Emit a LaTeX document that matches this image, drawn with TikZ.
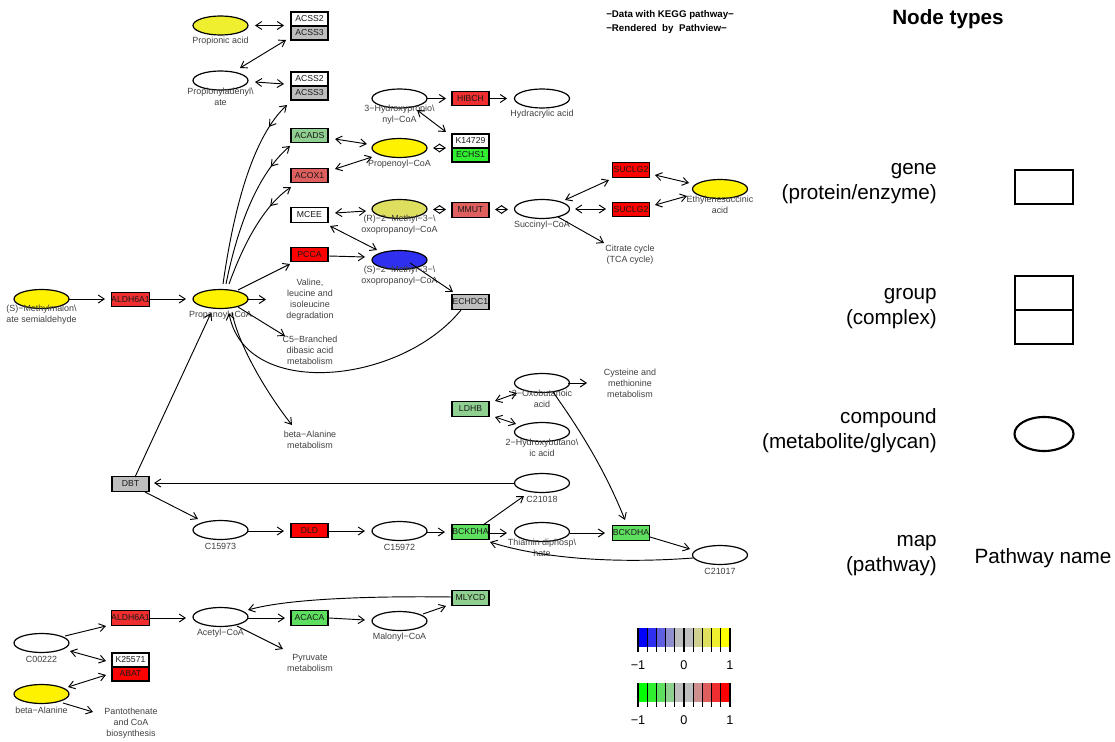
\documentclass[tikz,border=0pt]{standalone}
\usepackage{fontspec}
\setmainfont{Liberation Sans}
\usetikzlibrary{arrows.meta,calc,decorations.markings,shapes.geometric}
\definecolor{cy1}{HTML}{EFEF2F}
\definecolor{colive}{HTML}{DFDF5F}
\definecolor{cblue}{HTML}{2F2FEF}
\definecolor{cgrey}{HTML}{BEBEBE}
\definecolor{gA}{HTML}{8FCF8F}
\definecolor{gB}{HTML}{5FDF5F}
\definecolor{gC}{HTML}{2FEF2F}
\definecolor{rA}{HTML}{DF5F5F}
\definecolor{rB}{HTML}{EF2F2F}
\definecolor{rC}{HTML}{FF0000}
\definecolor{bA0}{HTML}{0000FF}\definecolor{bA1}{HTML}{2F2FEF}\definecolor{bA2}{HTML}{5F5FDF}
\definecolor{bA3}{HTML}{8F8FCF}\definecolor{bA4}{HTML}{BEBEBE}\definecolor{bA5}{HTML}{BEBEBE}
\definecolor{bA6}{HTML}{CFCF8F}\definecolor{bA7}{HTML}{DFDF5F}\definecolor{bA8}{HTML}{EFEF2F}
\definecolor{bA9}{HTML}{FFFF00}
\definecolor{bB0}{HTML}{00FF00}\definecolor{bB1}{HTML}{2FEF2F}\definecolor{bB2}{HTML}{5FDF5F}
\definecolor{bB3}{HTML}{8FCF8F}\definecolor{bB4}{HTML}{BEBEBE}\definecolor{bB5}{HTML}{BEBEBE}
\definecolor{bB6}{HTML}{CF8F8F}\definecolor{bB7}{HTML}{DF5F5F}\definecolor{bB8}{HTML}{EF2F2F}
\definecolor{bB9}{HTML}{FF0000}
\tikzset{
 >={Straight Barb[length=4.5pt,width=6pt]},
 cpd/.style={ellipse,draw=black,line width=0.9pt,minimum width=41.25pt,minimum height=14.25pt,inner sep=0pt},
 gene/.style={rectangle,draw=black,line width=0.9pt,minimum width=27.75pt,minimum height=10.9pt,inner sep=0pt,font=\fontsize{6.5}{7}\selectfont,text=black!90},
 half/.style={gene,minimum height=10.5pt},
 lbl/.style={font=\fontsize{6.7}{8.25}\selectfont,align=center,inner sep=0pt,text=black!75},
 con/.style={line width=0.7pt},
 midback/.style={postaction={decorate,decoration={markings,mark=at position -15.75pt with {\arrow{<}}}}},
 leg/.style={font=\fontsize{15.5}{18.75}\selectfont,align=right,inner sep=0pt},
 cbtext/.style={font=\fontsize{9.5}{11}\selectfont,inner sep=0pt},
}
\newcommand\cmpd[5]{\node[cpd,fill=#4] (#1) at (#2,#3) {};\node[lbl] (#1-l) at (#2,#3+16) {#5};}
\begin{document}
\begin{tikzpicture}[x=0.75pt,y=-0.75pt]
\useasboundingbox (0,0) rectangle (1115,742);
\fill[white] (0,0) rectangle (1115,742);

% compounds
\cmpd{propac}{220.5}{25.5}{cy1}{Propionic acid}
\cmpd{propad}{220.5}{80.5}{white}{Propionyladenyl\textbackslash\\ate}
\cmpd{hpcoa}{399.5}{98.5}{white}{3−Hydroxypropio\textbackslash\\nyl−CoA}
\cmpd{hydra}{542}{98.5}{white}{Hydracrylic acid}
\cmpd{propen}{399.5}{148}{yellow}{Propenoyl−CoA}
\cmpd{rmeth}{399.5}{209}{colive}{(R)−2−Methyl−3−\textbackslash\\oxopropanoyl−CoA}
\cmpd{smeth}{399.5}{260}{cblue}{(S)−2−Methyl−3−\textbackslash\\oxopropanoyl−CoA}
\cmpd{succ}{542}{209}{white}{Succinyl−CoA}
\cmpd{ethyl}{720}{189}{yellow}{Ethylenesuccinic\\acid}
\cmpd{mmsa}{41.5}{299}{yellow}{(S)−Methylmalon\textbackslash\\ate semialdehyde}
\cmpd{propcoa}{220.5}{299}{yellow}{Propanoyl−CoA}
\cmpd{oxob}{542}{383}{white}{2−Oxobutanoic\\acid}
\cmpd{hydrob}{542}{432}{white}{2−Hydroxybutano\textbackslash\\ic acid}
\cmpd{c21018}{542}{483}{white}{C21018}
\cmpd{thiam}{542}{532}{white}{Thiamin diphosp\textbackslash\\hate}
\cmpd{c21017}{720}{555}{white}{C21017}
\cmpd{c15973}{220.5}{530}{white}{C15973}
\cmpd{c15972}{399.5}{531}{white}{C15972}
\cmpd{acetyl}{220.5}{617}{white}{Acetyl−CoA}
\cmpd{malonyl}{399.5}{621}{white}{Malonyl−CoA}
\cmpd{c00222}{41.5}{643}{white}{C00222}
\cmpd{balan}{41.5}{694}{yellow}{beta−Alanine}

% genes
\node[half,fill=white] (acss2a) at (309.5,19) {ACSS2};
\node[half,fill=cgrey] (acss3a) at (309.5,33) {ACSS3};
\node[half,fill=white] (acss2b) at (309.5,79) {ACSS2};
\node[half,fill=cgrey] (acss3b) at (309.5,93) {ACSS3};
\node[gene,fill=gA] (acads) at (309.5,135.5) {ACADS};
\node[gene,fill=rA] (acox1) at (309.5,175.5) {ACOX1};
\node[gene,fill=white] (mcee) at (309.5,215) {MCEE};
\node[gene,fill=rC] (pcca) at (309.5,254.5) {PCCA};
\node[gene,fill=rB] (hibch) at (470.5,98.5) {HIBCH};
\node[half,fill=white] (k14729) at (470.5,141) {K14729};
\node[half,fill=gC] (echs1) at (470.5,155) {ECHS1};
\node[gene,fill=rA] (mmut) at (470.5,210) {MMUT};
\node[gene,fill=rC] (suclga) at (631,170) {SUCLG2};
\node[gene,fill=rC] (suclgb) at (631,209.5) {SUCLG2};
\node[gene,fill=rB] (aldha) at (130.5,299.5) {ALDH6A1};
\node[gene,fill=cgrey] (echdc1) at (470.5,302) {ECHDC1};
\node[gene,fill=gA] (ldhb) at (470.5,409) {LDHB};
\node[gene,fill=cgrey] (dbt) at (130.5,484) {DBT};
\node[gene,fill=rC] (dld) at (309.5,530.5) {DLD};
\node[gene,fill=gB] (bckdha) at (470.5,532) {BCKDHA};
\node[gene,fill=gB] (bckdhb) at (631,533) {BCKDHA};
\node[gene,fill=gA] (mlycd) at (470.5,598) {MLYCD};
\node[gene,fill=gB] (acaca) at (309.5,618) {ACACA};
\node[gene,fill=rB] (aldhb) at (130.5,618) {ALDH6A1};
\node[half,fill=white] (k25571) at (130.5,660) {K25571};
\node[half,fill=rC] (abat) at (130.5,674) {ABAT};

% pathway maps
\node[lbl] (mapval) at (310,299.5) {Valine,\\leucine and\\isoleucine\\degradation};
\node[lbl] (mapc5) at (310,350) {C5−Branched\\dibasic acid\\metabolism};
\node[lbl] (mapbala) at (310,440) {beta−Alanine\\metabolism};
\node[lbl] (maptca) at (630,255) {Citrate cycle\\(TCA cycle)};
\node[lbl] (mapcys) at (630,383) {Cysteine and\\methionine\\metabolism};
\node[lbl] (mappyr) at (310,663) {Pyruvate\\metabolism};
\node[lbl] (mappan) at (131,723) {Pantothenate\\and CoA\\biosynthesis};

% edges
\draw[con,<->] ($(propac)+(34.5,0)$) -- ($(acss2a)+(-25.5,6.5)$);
\draw[con,<->] ($(propad)+(19.5,-12.5)$) -- ($(acss3a)+(-23.5,7)$);
\draw[con,<->] ($(propad)+(34.5,1.5)$) -- ($(acss2b)+(-25.5,5)$);
\draw[con,->,midback] ($(propcoa)+(2.5,-15)$) .. controls ($(propcoa)+(14.5,-99)$) and ($(propcoa)+(34.5,-164)$) .. ($(acss3b)+(-22.5,12)$);
\draw[con,->,midback] ($(propcoa)+(5.5,-15)$) .. controls ($(propcoa)+(19.5,-84)$) and ($(propcoa)+(41.5,-129)$) .. ($(acads)+(-19.5,10.5)$);
\draw[con,->,midback] ($(propcoa)+(8.5,-15)$) .. controls ($(propcoa)+(24.5,-59)$) and ($(propcoa)+(44.5,-94)$) .. ($(acox1)+(-18.5,11.5)$);
\draw[con,<->] ($(acads)+(25.5,3.5)$) -- ($(propen)+(-32.5,-4)$);
\draw[con,<->] ($(acox1)+(25.5,-6.5)$) -- ($(propen)+(-27.5,9)$);
\draw[con,<->] ($(mcee)+(25.5,-2)$) -- ($(rmeth)+(-33.5,2)$);
\draw[con,<->] ($(mcee)+(20.5,11)$) -- ($(smeth)+(-22.5,-10)$);
\draw[con,->] ($(pcca)+(19.5,1.5)$) -- ($(smeth)+(-34.5,-3)$);
\draw[con,->] ($(propcoa)+(17.5,-9)$) -- ($(pcca)+(-19.5,9.5)$);
\draw[con,->] ($(mmsa)+(27.5,0)$) -- ($(aldha)+(-25.5,-0.5)$);
\draw[con,->] ($(aldha)+(19.5,-0.5)$) -- ($(propcoa)+(-34.5,0)$);
\draw[con,->] ($(propcoa)+(27.5,0.5)$) -- ($(mapval)+(-44,0)$);
\draw[con,->] ($(propcoa)+(17.5,8)$) -- ($(mapc5)+(-25,-14)$);
\draw[con,->] ($(echdc1)+(-9.5,8)$) .. controls ($(echdc1)+(-70.5,83)$) and ($(propcoa)+(24.5,101)$) .. ($(propcoa)+(8.5,14)$);
\draw[con,->] ($(propcoa)+(11.5,13)$) .. controls ($(propcoa)+(17.5,46)$) and ($(mapbala)+(-42,-45)$) .. ($(mapbala)+(-18,-15)$);
\draw[con,->] ($(dbt)+(4.5,-7)$) -- ($(propcoa)+(-9.5,14)$);
\draw[con,->] ($(c21018)+(-28,0)$) -- ($(dbt)+(23.5,-1)$);
\draw[con,->] ($(dbt)+(14.5,8)$) -- ($(c15973)+(-22.5,-11)$);
\draw[con,->] ($(c15973)+(27.5,1)$) -- ($(dld)+(-25.5,0.5)$);
\draw[con,->] ($(dld)+(19.5,0.5)$) -- ($(c15972)+(-34.5,0)$);
\draw[con,->] ($(c15972)+(27.5,1)$) -- ($(bckdha)+(-25.5,0)$);
\draw[con,->] ($(bckdha)+(12.5,-7)$) -- ($(c21018)+(-18,13)$);
\draw[con,->] ($(bckdha)+(19.5,1)$) -- ($(thiam)+(-35,1)$);
\draw[con,->] ($(thiam)+(28,1)$) -- ($(bckdhb)+(-26,0)$);
\draw[con,->] ($(bckdhb)+(19,4)$) -- ($(c21017)+(-30,-6)$);
\draw[con,->] ($(c21017)+(-27,3)$) .. controls ($(c21017)+(-120,10)$) and ($(bckdha)+(59.5,23)$) .. ($(bckdha)+(19.5,10)$);
\draw[con,->] ($(oxob)+(11,9)$) .. controls ($(oxob)+(38,47)$) and ($(bckdhb)+(-26,-63)$) .. ($(bckdhb)+(-6,-13)$);
\draw[con,->] ($(oxob)+(26,0)$) -- ($(mapcys)+(-43,0)$);
\draw[con,<->] ($(ldhb)+(24.5,-8)$) -- ($(oxob)+(-25,10)$);
\draw[con,<->] ($(ldhb)+(24.5,8)$) -- ($(hydrob)+(-26,-8)$);
\draw[con,<->] ($(succ)+(23,-9)$) -- ($(suclga)+(-22,10)$);
\draw[con,<->] ($(succ)+(33,0)$) -- ($(suclgb)+(-25,-0.5)$);
\draw[con,<->] ($(suclga)+(24,5)$) -- ($(ethyl)+(-31,-6)$);
\draw[con,<->] ($(suclgb)+(24,-4.5)$) -- ($(ethyl)+(-33,7)$);
\draw[con,->] ($(succ)+(16,8)$) -- ($(maptca)+(-26,-12)$);
\draw[con,<->] ($(propen)+(33.5,0)$) -- ($(k14729)+(-24.5,7)$);
\draw[con,<->] ($(rmeth)+(33.5,0.5)$) -- ($(mmut)+(-24.5,-0.5)$);
\draw[con,<->] ($(mmut)+(24.5,-0.5)$) -- ($(succ)+(-34,0.5)$);
\draw[con,->] ($(hpcoa)+(27.5,0)$) -- ($(hibch)+(-24.5,0)$);
\draw[con,->] ($(hibch)+(18.5,0)$) -- ($(hydra)+(-35,0)$);
\draw[con,<->] ($(hpcoa)+(17.5,11.5)$) -- ($(k14729)+(-24.5,-9)$);
\draw[con,->] ($(smeth)+(10.5,3)$) -- ($(echdc1)+(-17.5,-10)$);
\draw[con,->] ($(c00222)+(23.5,-7)$) -- ($(aldhb)+(-24.5,8)$);
\draw[con,<->] ($(c00222)+(28.5,8)$) -- ($(k25571)+(-24.5,1)$);
\draw[con,<->] ($(balan)+(26.5,-7)$) -- ($(abat)+(-24.5,1)$);
\draw[con,->] ($(balan)+(21.5,9)$) -- ($(mappan)+(-38,-11)$);
\draw[con,->] ($(aldhb)+(19.5,0)$) -- ($(acetyl)+(-34.5,1)$);
\draw[con,->] ($(acetyl)+(27.5,1)$) -- ($(acaca)+(-24.5,0)$);
\draw[con,->] ($(acaca)+(19.5,0)$) -- ($(malonyl)+(-34.5,-1)$);
\draw[con,->] ($(malonyl)+(23.5,-7)$) -- ($(mlycd)+(-24.5,8)$);
\draw[con,->] ($(mlycd)+(-18.5,-1)$) .. controls ($(mlycd)+(-90.5,-2)$) and ($(acetyl)+(69.5,-19)$) .. ($(acetyl)+(27.5,-7)$);
\draw[con,->] ($(acetyl)+(16.5,9)$) -- ($(mappyr)+(-27,-14)$);

% header texts
\node[anchor=west,align=left,inner sep=0pt,font=\bfseries\fontsize{7.3}{10.5}\selectfont] (kegg) at (606,22) {−Data with KEGG pathway−\\−Rendered\ \ by\ \ Pathview−};
\node[inner sep=0pt,font=\bfseries\fontsize{15.5}{18}\selectfont] (ntypes) at (948,19) {Node types};

% legend
\node[leg,anchor=east] (tgene) at (937,183.5) {gene\\(protein/enzyme)};
\node[draw,line width=2.2pt,minimum width=43.5pt,minimum height=25.5pt,inner sep=0pt] (lgene) at (1044,187) {};
\node[leg,anchor=east] (tgroup) at (937,308.5) {group\\(complex)};
\node[draw,line width=2.2pt,minimum width=43.5pt,minimum height=25.5pt,inner sep=0pt] (lgroupa) at (1044,293) {};
\node[draw,line width=2.2pt,minimum width=43.5pt,minimum height=25.5pt,inner sep=0pt] (lgroupb) at (1044,327) {};
\node[leg,anchor=east] (tcpd) at (937,430.5) {compound\\(metabolite/glycan)};
\node[draw,ellipse,line width=1.6pt,minimum width=44.25pt,minimum height=25.5pt,inner sep=0pt] (lcpd) at (1044,434) {};
\node[leg,anchor=east] (tmap) at (937,555.5) {map\\(pathway)};
\node[inner sep=0pt,font=\fontsize{15.5}{18}\selectfont] (lmap) at (1043,558) {Pathway name};

% color bars
\foreach \c [count=\i from 0] in {bA0,bA1,bA2,bA3,bA4,bA5,bA6,bA7,bA8,bA9}
  \fill[\c] (638+\i*9.2,628) rectangle ++(9.2,19);
\foreach \i in {0,...,10}
  \draw[line width=0.8pt] (638+\i*9.2,628) -- ++(0,24);
\foreach \c [count=\i from 0] in {bB0,bB1,bB2,bB3,bB4,bB5,bB6,bB7,bB8,bB9}
  \fill[\c] (638+\i*9.2,683) rectangle ++(9.2,19);
\foreach \i in {0,...,10}
  \draw[line width=0.8pt] (638+\i*9.2,683) -- ++(0,24);
\node[cbtext] (ta1) at (638,665) {−1};
\node[cbtext] (ta2) at (684,665) {0};
\node[cbtext] (ta3) at (730,665) {1};
\node[cbtext] (tb1) at (638,720) {−1};
\node[cbtext] (tb2) at (684,720) {0};
\node[cbtext] (tb3) at (730,720) {1};
\end{tikzpicture}
\end{document}
